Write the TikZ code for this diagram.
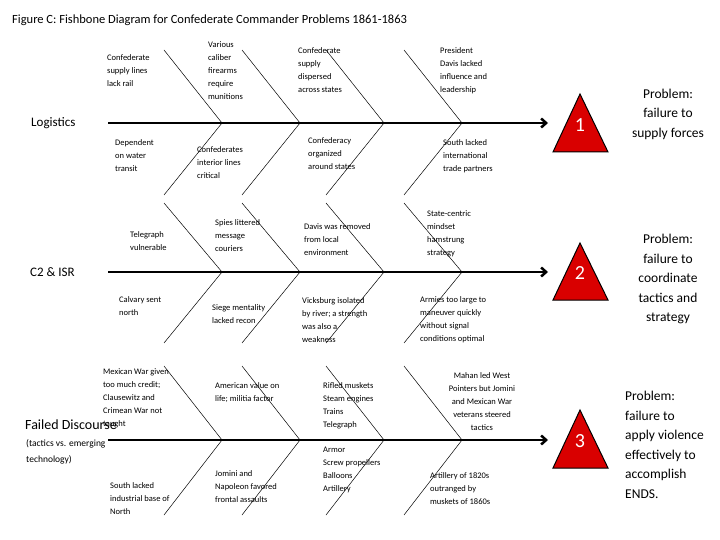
\documentclass[tikz,border=0pt]{standalone}
\usepackage{fontspec}
\setmainfont{Carlito}
\usetikzlibrary{arrows.meta}
\begin{document}
\begin{tikzpicture}[x=1pt,y=-1pt,
  lbl/.style={anchor=north west,align=left,font=\fontsize{8.5}{13}\selectfont,inner sep=0},
  prob/.style={align=center,font=\fontsize{13.5}{19.5}\selectfont,inner sep=0},
  cat/.style={anchor=west,font=\fontsize{13}{15}\selectfont,inner sep=0},
  spine/.style={line width=2.5pt,-{Straight Barb[length=5pt,width=9pt]}},
  bone/.style={line width=0.5pt},
  tri/.style={draw=black,fill=red!85!black,line width=1pt,line join=miter},
  num/.style={text=white,font=\fontsize{20}{20}\selectfont}]
\useasboundingbox (0,0) rectangle (720,540);
\node[anchor=west,inner sep=0,font=\fontsize{12.5}{15}\selectfont] (title) at (12,20) {Figure C: Fishbone Diagram for Confederate Commander Problems 1861-1863};
\foreach \r/\y/\t/\b in {1/123/50/195, 2/272/203/343, 3/440/366/515}{
  \coordinate (s\r) at (108,\y);
  \coordinate (e\r) at (548,\y);
  \draw[spine] (s\r) -- (e\r);
  \foreach \k/\bx in {a/222,b/300,c/384,d/462}{
    \coordinate (j\r\k) at (\bx,\y);
    \coordinate (t\r\k) at (\bx-58,\t);
    \coordinate (u\r\k) at (\bx-58,\b);
    \draw[bone] (t\r\k) -- (j\r\k) -- (u\r\k);
  }
}
\draw[tri] (553,152) -- (580,94) -- (608,152) -- cycle;
\node[num] (n1) at (580,125) {1};
\draw[tri] (553,300) -- (580,243) -- (608,300) -- cycle;
\node[num] (n2) at (580,273) {2};
\draw[tri] (553,468) -- (580,410) -- (608,468) -- cycle;
\node[num] (n3) at (580,441) {3};

\node[cat] (c1) at (31,123) {Logistics};
\node[cat] (c2) at (30,272) {C2 \& ISR};
\node[cat,font=\fontsize{14}{16}\selectfont] (c3) at (25,425) {Failed Discourse};
\node[lbl,font=\fontsize{9.5}{16}\selectfont] (c3b) at (26,439) {(tactics vs. emerging\\technology)};

\node[prob] (p1) at (668,114) {Problem:\\failure to\\supply forces};
\node[prob] (p2) at (668,279) {Problem:\\failure to\\coordinate\\tactics and\\strategy};
\node[prob,anchor=north west,align=left] (p3) at (625,391) {Problem:\\failure to\\apply violence\\effectively to\\accomplish\\ENDS.};

\node[lbl] (l1a) at (107,54) {Confederate\\supply lines\\lack rail};
\node[lbl] (l1b) at (208,41) {Various\\caliber\\firearms\\require\\munitions};
\node[lbl] (l1c) at (298,47) {Confederate\\supply\\dispersed\\across states};
\node[lbl] (l1d) at (440,47) {President\\Davis lacked\\influence and\\leadership};
\node[lbl] (l1e) at (115,139) {Dependent\\on water\\transit};
\node[lbl] (l1f) at (197,146) {Confederates\\interior lines\\critical};
\node[lbl] (l1g) at (308,137) {Confederacy\\organized\\around states};
\node[lbl] (l1h) at (443,139) {South lacked\\international\\trade partners};

\node[lbl] (l2a) at (130,231) {Telegraph\\vulnerable};
\node[lbl] (l2b) at (215,219) {Spies littered\\message\\couriers};
\node[lbl] (l2c) at (304,223) {Davis was removed\\from local\\environment};
\node[lbl] (l2d) at (427,210) {State-centric\\mindset\\hamstrung\\strategy};
\node[lbl] (l2e) at (119,296) {Calvary sent\\north};
\node[lbl] (l2f) at (212,304) {Siege mentality\\lacked recon};
\node[lbl] (l2g) at (302,297) {Vicksburg isolated\\by river; a strength\\was also a\\weakness};
\node[lbl] (l2h) at (420,296) {Armies too large to\\maneuver quickly\\without signal\\conditions optimal};

\node[lbl] (l3a) at (103,368) {Mexican War given\\too much credit;\\Clausewitz and\\Crimean War not\\taught};
\node[lbl] (l3b) at (215,382) {American value on\\life; militia factor};
\node[lbl] (l3c) at (323,382) {Rifled muskets\\Steam engines\\Trains\\Telegraph};
\node[lbl,align=center,anchor=north] (l3d) at (482,372) {Mahan led West\\Pointers but Jomini\\and Mexican War\\veterans steered\\tactics};
\node[lbl] (l3e) at (110,482) {South lacked\\industrial base of\\North};
\node[lbl] (l3f) at (215,470) {Jomini and\\Napoleon favored\\frontal assaults};
\node[lbl] (l3g) at (323,447) {Armor\\Screw propellers\\Balloons\\Artillery};
\node[lbl] (l3h) at (430,472) {Artillery of 1820s\\outranged by\\muskets of 1860s};
\end{tikzpicture}
\end{document}
